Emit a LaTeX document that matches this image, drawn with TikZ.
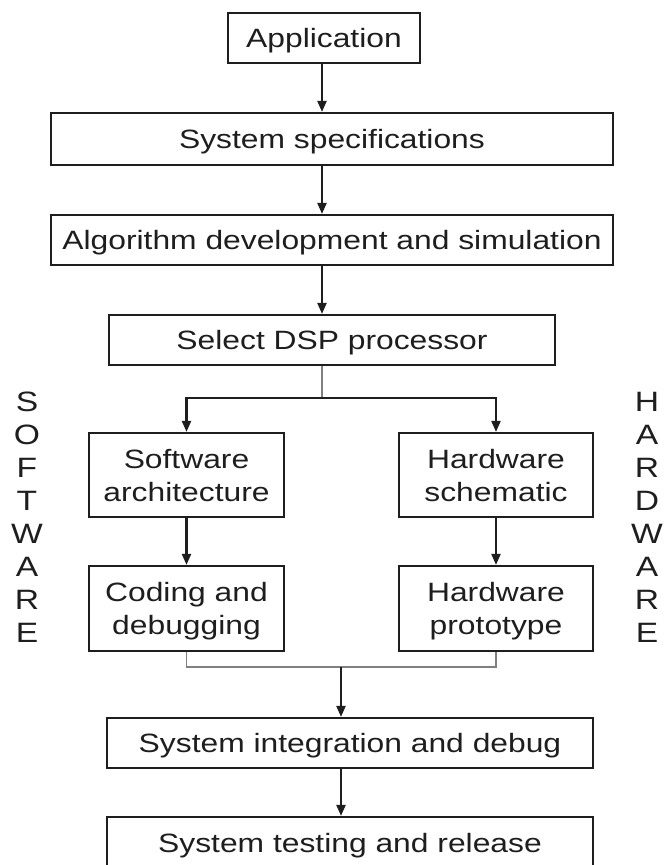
\documentclass[tikz,border=0pt]{standalone}
\usepackage{fontspec}
\setmainfont{Liberation Sans}[FakeStretch=1.2]
\usetikzlibrary{arrows.meta}
\definecolor{ink}{HTML}{1E1E1E}
\definecolor{wire}{HTML}{808080}
\begin{document}
\begin{tikzpicture}[x=1pt,y=-1pt,
  every node/.style={font=\fontsize{26.5}{33}\selectfont, text=ink},
  box/.style={draw=ink, line width=2.2pt, inner sep=0pt, align=center,
              text height=19pt, text depth=0pt},
  twoline/.style={text height=52pt},
  arr/.style={draw=ink, line width=2.2pt, -{Triangle[length=11pt,width=9pt]}},
  thinwire/.style={draw=wire, line width=1.6pt},
  sidelabel/.style={align=center, inner sep=0pt,
                    font=\fontsize{28}{32.9}\selectfont,
                    text height=250pt, text depth=0pt}]
\clip (0,0) rectangle (665,865);
\fill[white] (0,0) rectangle (665,865);

% main flow
\node[box, minimum width=192pt, minimum height=50pt] (app)   at (324,38)  {Application};
\node[box, minimum width=562pt, minimum height=52pt] (spec)  at (332,139) {System specifications};
\node[box, minimum width=562pt, minimum height=50pt] (algo)  at (332,240) {Algorithm development and simulation};
\node[box, minimum width=446pt, minimum height=50pt] (dsp)   at (332,340) {Select DSP processor};

% software / hardware branches
\node[box, twoline, minimum width=195pt, minimum height=84pt] (sw)    at (186.5,475) {Software\\architecture};
\node[box, twoline, minimum width=194pt, minimum height=84pt] (hw)    at (496,475)   {Hardware\\schematic};
\node[box, twoline, minimum width=195pt, minimum height=85pt] (code)  at (186.5,608.5) {Coding and\\debugging};
\node[box, twoline, minimum width=194pt, minimum height=85pt] (proto) at (496,608.5)   {Hardware\\prototype};

% final stages
\node[box, minimum width=486pt, minimum height=50pt] (integ) at (350,743) {System integration and debug};
\node[box, minimum width=486pt, minimum height=52pt] (test)  at (350,843) {System testing and release};

% side captions
\node[sidelabel] (swlabel) at (27,517)  {S\\O\\F\\T\\W\\A\\R\\E};
\node[sidelabel] (hwlabel) at (647,517) {H\\A\\R\\D\\W\\A\\R\\E};

% connectors
\coordinate (split) at (322,398);
\coordinate (join)  at (341,667);

\draw[arr] (app.south -| split) -- (spec.north -| split);
\draw[arr] (spec.south -| split) -- (algo.north -| split);
\draw[arr] (algo.south -| split) -- (dsp.north -| split);
\draw[thinwire] (dsp.south -| split) -- (split);
\draw[arr] (split) -| (sw.north);
\draw[arr] (split) -| (hw.north);
\draw[arr] (sw.south) -- (code.north);
\draw[arr] (hw.south) -- (proto.north);
\draw[thinwire] (code.south) |- (join);
\draw[thinwire] (proto.south) |- (join);
\draw[arr] (join) -- (integ.north -| join);
\draw[arr] (integ.south -| join) -- (test.north -| join);
\end{tikzpicture}
\end{document}
